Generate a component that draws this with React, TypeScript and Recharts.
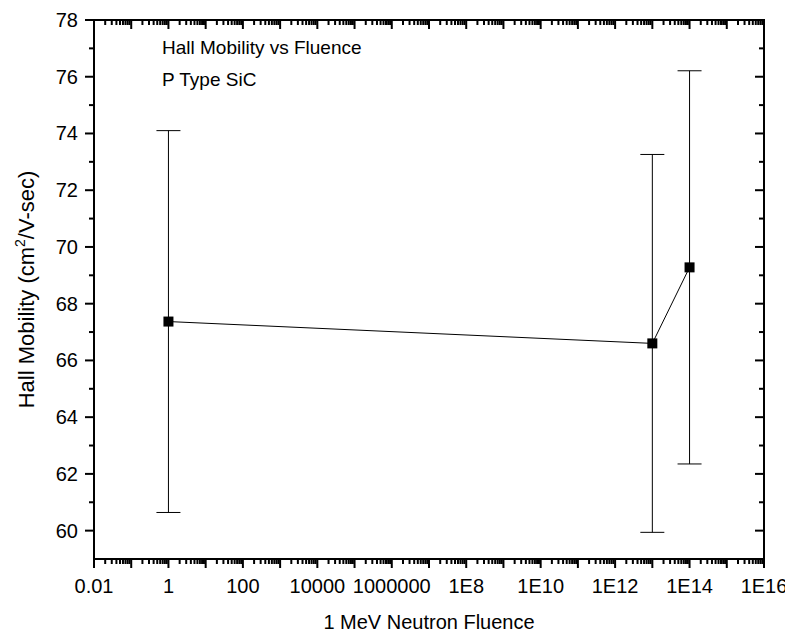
import React from 'react';
import { ComposedChart, Line, ErrorBar, XAxis, YAxis, ReferenceArea, Label } from 'recharts';

// measured data (1 MeV neutron fluence vs Hall mobility, P type SiC)
const fluence = [1, 1e13, 1e14];
const mobility = [67.37, 66.6, 69.28];
const mobilityErr = [6.73, 6.66, 6.93];

// axis ticks
const xDecades = [-2, -1, 0, 1, 2, 3, 4, 5, 6, 7, 8, 9, 10, 11, 12, 13, 14, 15, 16];
const xLabelExps = [-2, 0, 2, 4, 6, 8, 10, 12, 14, 16];
const xTickLabels = ['0.01', '1', '100', '10000', '1000000', '1E8', '1E10', '1E12', '1E14', '1E16'];
const yMajorTicks = [60, 62, 64, 66, 68, 70, 72, 74, 76, 78];
const yMinorTicks = [61, 63, 65, 67, 69, 71, 73, 75, 77];

const data = fluence.map((f, i) => ({ fluence: f, mobility: mobility[i], err: mobilityErr[i] }));

const xTicks: number[] = [];
xDecades.forEach((k) => {
  xTicks.push(Number(`1e${k}`));
  if (k < 16) for (let m = 2; m <= 9; m++) xTicks.push(Number(`${m}e${k}`));
});
const yTicks = [...yMajorTicks, ...yMinorTicks].sort((a, b) => a - b);

const W = 785;
const H = 625;
const X_AXIS_H = 74;
const Y_AXIS_W = 86;
const margin = { top: 12, right: 29, bottom: 0, left: 0 };
const PLOT_W = W - Y_AXIS_W - margin.right;
const PLOT_H = H - margin.top - X_AXIS_H;
const FONT = '"Liberation Sans", Arial, sans-serif';
const MAJOR = 9;
const MINOR = 5;
const TICK_FS = 20;

const XTick = (props: any) => {
  const { x, y, payload } = props;
  const e = Math.log10(payload.value);
  const major = Math.abs(e - Math.round(e)) < 1e-6;
  const len = major ? MAJOR : MINOR;
  const idx = major ? xLabelExps.indexOf(Math.round(e)) : -1;
  return (
    <g>
      <line x1={x} x2={x} y1={y} y2={y + len} stroke="#000" strokeWidth={2} />
      <line x1={x} x2={x} y1={y - PLOT_H} y2={y - PLOT_H + len} stroke="#000" strokeWidth={2} />
      {idx >= 0 && (
        <text x={x} y={y + 34} textAnchor="middle" fontSize={TICK_FS} fontFamily={FONT} fill="#000">
          {xTickLabels[idx]}
        </text>
      )}
    </g>
  );
};

const YTick = (props: any) => {
  const { x, y, payload } = props;
  const major = yMajorTicks.includes(payload.value);
  const len = major ? MAJOR : MINOR;
  return (
    <g>
      <line x1={x - len} x2={x} y1={y} y2={y} stroke="#000" strokeWidth={2} />
      <line x1={x + PLOT_W - len} x2={x + PLOT_W} y1={y} y2={y} stroke="#000" strokeWidth={2} />
      {major && (
        <text x={x - 16} y={y + 7} textAnchor="end" fontSize={TICK_FS} fontFamily={FONT} fill="#000">
          {payload.value}
        </text>
      )}
    </g>
  );
};

const Square = (props: any) => {
  const { cx, cy } = props;
  if (cx == null || cy == null) return null;
  return <rect x={cx - 5} y={cy - 5} width={10} height={10} fill="#000" />;
};

const XTitle = (props: any) => {
  const vb = props.viewBox;
  return (
    <text x={vb.x + vb.width / 2} y={margin.top + PLOT_H + 70} textAnchor="middle" fontSize={20} fontFamily={FONT} fill="#000">
      1 MeV Neutron Fluence
    </text>
  );
};

const YTitle = () => {
  const cx = Y_AXIS_W - 60;
  const cy = margin.top + PLOT_H / 2;
  return (
    <text x={cx} y={cy} transform={`rotate(-90, ${cx}, ${cy})`} textAnchor="middle" fontSize={22} fontFamily={FONT} fill="#000">
      Hall Mobility (cm<tspan dy={-9} fontSize={14}>2</tspan><tspan dy={9}>/V-sec)</tspan>
    </text>
  );
};

const PlotNote = (props: any) => {
  const vb = props.viewBox;
  return (
    <g>
      <text x={vb.x + 68} y={vb.y + 34} fontSize={19} fontFamily={FONT} fill="#000">Hall Mobility vs Fluence</text>
      <text x={vb.x + 68} y={vb.y + 66} fontSize={19} fontFamily={FONT} fill="#000">P Type SiC</text>
    </g>
  );
};

export default function App() {
  return (
    <div style={{ width: W, height: H, background: '#fff' }}>
      <ComposedChart width={W} height={H} data={data} margin={margin}>
        <XAxis
          dataKey="fluence"
          type="number"
          scale="log"
          domain={[0.01, 1e16]}
          allowDataOverflow
          ticks={xTicks}
          interval={0}
          tick={<XTick />}
          tickLine={false}
          tickSize={0}
          tickMargin={0}
          axisLine={false}
          height={X_AXIS_H}
          label={<XTitle />}
        />
        <YAxis
          type="number"
          domain={[59, 78]}
          allowDataOverflow
          ticks={yTicks}
          interval={0}
          tick={<YTick />}
          tickLine={false}
          tickSize={0}
          tickMargin={0}
          axisLine={false}
          width={Y_AXIS_W}
          label={<YTitle />}
        />
        <ReferenceArea x1={0.01} x2={1e16} y1={59} y2={78} fill="none" stroke="#000" strokeWidth={2} ifOverflow="visible">
          <Label content={<PlotNote />} />
        </ReferenceArea>
        <Line
          dataKey="mobility"
          stroke="#000"
          strokeWidth={1}
          dot={<Square />}
          activeDot={false}
          isAnimationActive={false}
        >
          <ErrorBar dataKey="err" direction="y" width={12} stroke="#000" strokeWidth={1} isAnimationActive={false} />
        </Line>
      </ComposedChart>
    </div>
  );
}
